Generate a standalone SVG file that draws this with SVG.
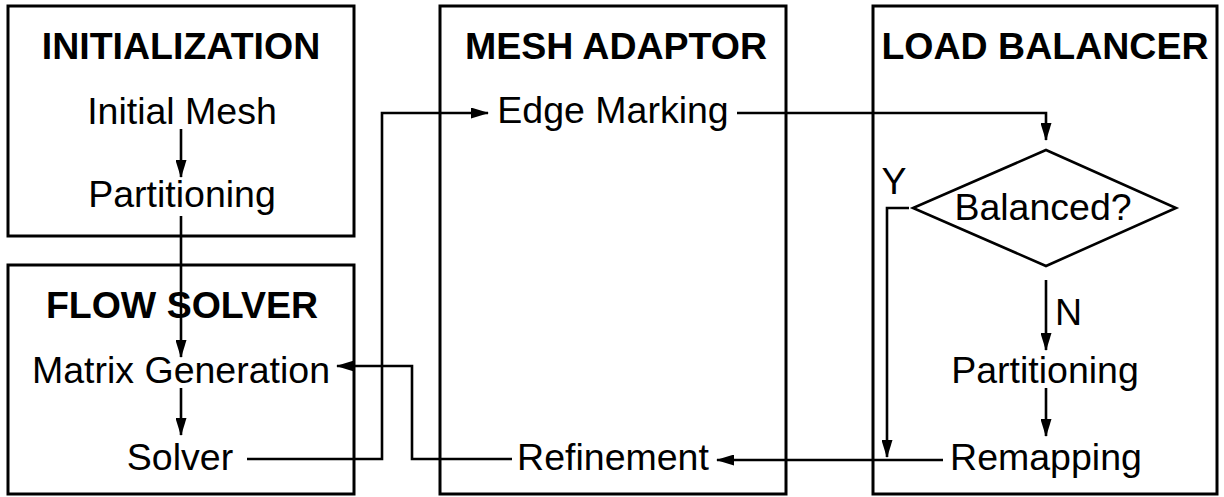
<svg xmlns="http://www.w3.org/2000/svg" width="1224" height="497" viewBox="0 0 1224 497">
<style>
.box{fill:none;stroke:#000;stroke-width:3}
.t{font-family:"Liberation Sans",Arial,sans-serif;font-size:37.5px;fill:#000;text-anchor:middle}
.b{font-weight:bold}
.c{fill:none;stroke:#000;stroke-width:2.6;marker-end:url(#ah)}
</style>
<defs>
<marker id="ah" markerUnits="userSpaceOnUse" markerWidth="18" markerHeight="11" refX="17" refY="5.5" orient="auto">
<path d="M0,0 L18,5.5 L0,11 z" fill="#000"/>
</marker>
</defs>
<rect width="1224" height="497" fill="#fff"/>
<g id="initialization">
<rect class="box" x="8" y="6" width="346" height="230"/>
<text class="t b" x="181" y="59">INITIALIZATION</text>
<text class="t" x="182" y="124">Initial Mesh</text>
<text class="t" x="182" y="207">Partitioning</text>
</g>
<g id="flow-solver">
<rect class="box" x="8" y="265" width="346" height="229"/>
<text class="t b" x="182" y="318">FLOW SOLVER</text>
<text class="t" x="181" y="383">Matrix Generation</text>
<text class="t" x="180" y="470">Solver</text>
</g>
<g id="mesh-adaptor">
<rect class="box" x="440" y="6" width="346" height="488"/>
<text class="t b" x="616" y="59">MESH ADAPTOR</text>
<text class="t" x="613" y="123">Edge Marking</text>
<text class="t" x="613" y="470">Refinement</text>
</g>
<g id="load-balancer">
<rect class="box" x="873" y="6" width="344" height="488"/>
<text class="t b" x="1045" y="59">LOAD BALANCER</text>
<polygon points="1046,150 1176,208 1046,266 913,208" fill="none" stroke="#000" stroke-width="2.6"/>
<text class="t" x="1043" y="220">Balanced?</text>
<text class="t" x="1045" y="383">Partitioning</text>
<text class="t" x="1046" y="470">Remapping</text>
<text class="t" x="894" y="194">Y</text>
<text class="t" x="1055" y="325" style="text-anchor:start">N</text>
</g>
<g id="connectors">
<path class="c" d="M181,129 V177"/>
<path class="c" d="M181,216 V357"/>
<path class="c" d="M181,388 V435"/>
<path class="c" d="M247,459 H382 V113 H488"/>
<path class="c" d="M737,113 H1046 V140"/>
<path class="c" d="M909,208 H887 V457"/>
<path class="c" d="M1046,280 V350"/>
<path class="c" d="M1046,388 V436"/>
<path class="c" d="M943,460 H717"/>
<path class="c" d="M512,459 H412 V366 H337"/>
</g>
</svg>
